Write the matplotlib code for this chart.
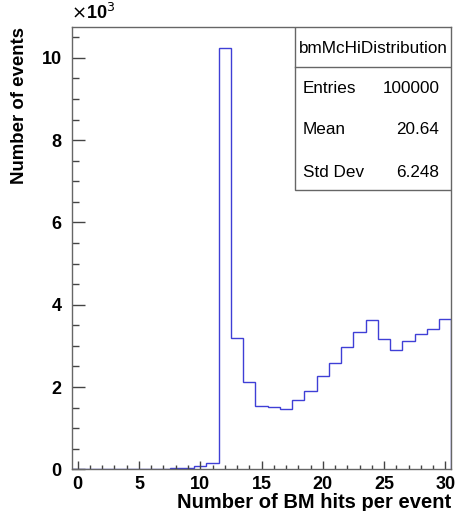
import matplotlib
matplotlib.use("Agg")
import matplotlib.pyplot as plt
import numpy as np
from matplotlib.patches import Rectangle
from matplotlib.lines import Line2D
from matplotlib.ticker import MultipleLocator

plt.rcParams['font.family'] = ['Liberation Sans', 'DejaVu Sans']

# data
bin_edges = np.arange(-0.5, 31.0, 1.0)
counts = [0, 0, 0, 0, 0, 0, 0, 10, 20, 40, 80, 150, 10250, 3180, 2130,
          1540, 1510, 1470, 1680, 1910, 2270, 2580, 2980, 3340, 3630,
          3160, 2900, 3120, 3280, 3400, 3650]
x_ticks = [0, 5, 10, 15, 20, 25, 30]
y_ticks = [0, 2, 4, 6, 8, 10]
stats_title = "bmMcHiDistribution"
stats_names = ["Entries", "Mean", "Std Dev"]
stats_values = ["100000", "20.64", "6.248"]

fig = plt.figure(figsize=(4.56, 5.11), dpi=100)
ax = fig.add_axes([0.157, 0.0816, 0.833, 0.8655])

scaled = np.array(counts) / 1000.0
ax.stairs(scaled, bin_edges, color='#3f3fd6', linewidth=1.0)

ax.set_xlim(-0.5, 30.5)
ax.set_ylim(0, 10.75)

frame_col = '#666666'
for s in ax.spines.values():
    s.set_color(frame_col)
    s.set_linewidth(1.0)

ax.set_xticks(x_ticks)
ax.set_yticks(y_ticks)
ax.xaxis.set_minor_locator(MultipleLocator(1))
ax.yaxis.set_minor_locator(MultipleLocator(0.5))
ax.tick_params(axis='both', which='both', direction='in', color='#444444', width=1.0)
ax.tick_params(axis='y', which='major', length=9, pad=7)
ax.tick_params(axis='y', which='minor', length=5)
ax.tick_params(axis='x', which='major', length=6, pad=5)
ax.tick_params(axis='x', which='minor', length=3)
ax.tick_params(top=False, right=False)
for lab in ax.get_xticklabels() + ax.get_yticklabels():
    lab.set_fontweight('bold')
    lab.set_fontsize(13)

ax.set_xlabel("Number of BM hits per event", fontsize=14.5, fontweight='bold', loc='right', labelpad=0)
ax.set_ylabel("Number of events", fontsize=13.4, fontweight='bold', loc='top', labelpad=10)

fig.text(0.156, 0.955, r"$\times$10$^{3}$", fontsize=13, fontweight='bold', ha='left', va='bottom')

# stats box
x0, y0 = 0.588, 0.6315
ax.add_patch(Rectangle((x0, y0), 1 - x0, 1 - y0, transform=ax.transAxes,
                       facecolor='white', edgecolor=frame_col, linewidth=1.0, zorder=5))
ax.add_line(Line2D([x0, 1], [0.9096, 0.9096], transform=ax.transAxes, color=frame_col,
                   linewidth=1.0, zorder=6))
ax.text((x0 + 1) / 2, 0.952, stats_title, transform=ax.transAxes, ha='center', va='center',
        fontsize=12.3, zorder=7)
for yy, n, v in zip([0.860, 0.769, 0.672], stats_names, stats_values):
    ax.text(0.608, yy, n, transform=ax.transAxes, ha='left', va='center', fontsize=12.3, zorder=7)
    ax.text(0.968, yy, v, transform=ax.transAxes, ha='right', va='center', fontsize=12.3, zorder=7)

fig.savefig("out.png", dpi=100)
